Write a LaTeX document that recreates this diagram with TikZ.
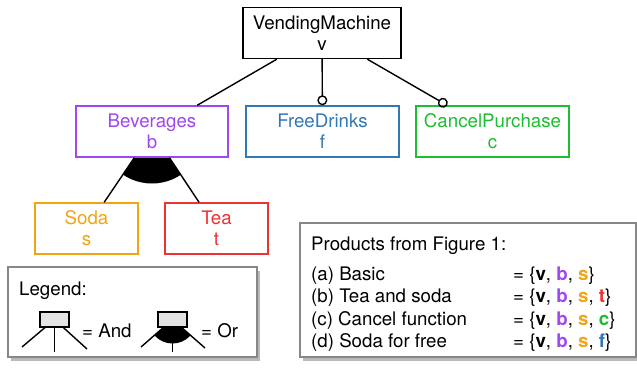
\documentclass[tikz,border=0pt]{standalone}
\usepackage{fontspec}
\setmainfont{TeX Gyre Heros}
\usetikzlibrary{arrows.meta,shadows,backgrounds}
\definecolor{cpurple}{RGB}{160,72,240}
\definecolor{cblue}{RGB}{50,120,180}
\definecolor{cgreen}{RGB}{30,190,50}
\definecolor{corange}{RGB}{240,165,20}
\definecolor{cred}{RGB}{238,50,50}
\definecolor{cframe}{RGB}{135,135,135}
\begin{document}
\begin{tikzpicture}[x=1pt,y=-1pt,
  font=\fontsize{18.7}{21}\selectfont,
  feat/.style={draw, line width=1.4pt, fill=white, minimum height=51pt, align=center, inner sep=0pt},
  edge/.style={line width=1.4pt},
  opt/.style={edge, -{Circle[open,length=10pt,width=10pt,line width=1.4pt]}},
  panel/.style={draw=cframe, line width=1.3pt, fill=white, inner sep=0pt,
    drop shadow={shadow xshift=2.5pt, shadow yshift=-3.5pt, fill=black!55, opacity=0.5}},
  legbox/.style={draw, fill=gray!22, line width=1.3pt, minimum width=29pt, minimum height=15pt, inner sep=0pt},
  txt/.style={anchor=base west, inner sep=0pt}
]
\useasboundingbox (0,0) rectangle (637,367);

% feature nodes
\node[feat, minimum width=158pt] (vm) at (322,33) {VendingMachine\\v};
\node[feat, draw=cpurple, text=cpurple, minimum width=152pt] (bev) at (152,131.5) {Beverages\\b};
\node[feat, draw=cblue, text=cblue, minimum width=153pt] (free) at (322.5,131.5) {FreeDrinks\\f};
\node[feat, draw=cgreen, text=cgreen, minimum width=153pt] (cancel) at (492.5,131.5) {CancelPurchase\\c};
\node[feat, draw=corange, text=corange, minimum width=103pt] (soda) at (86.5,228.5) {Soda\\s};
\node[feat, draw=cred, text=cred, minimum width=103pt] (tea) at (216.5,228.5) {Tea\\t};

% connectors
\draw[edge] (vm) -- (bev);
\draw[opt] (vm) -- (free);
\draw[opt] (vm) -- (cancel);
\draw[edge] (bev) -- (soda);
\draw[edge] (bev) -- (tea);
\begin{pgfonlayer}{background}
  \begin{scope}
    \clip (bev.center) -- (soda.center) -- (tea.center) -- cycle;
    \fill (bev.center) circle[radius=52];
  \end{scope}
\end{pgfonlayer}

% legend
\node[panel, minimum width=249pt, minimum height=90pt] (legend) at (132.5,312) {};
\node[txt] (legtitle) at (19,295.5) {Legend:};
\node[legbox] (andbox) at (54.5,319.5) {};
\coordinate (andL) at (22,347);
\coordinate (andM) at (54.5,352);
\coordinate (andR) at (87,349);
\draw[edge] (andbox) -- (andL);
\draw[edge] (andbox) -- (andM);
\draw[edge] (andbox) -- (andR);
\node[txt] (andtxt) at (82,337) {= And};

\coordinate (orc) at (172.5,319.5);
\coordinate (orL) at (141,347);
\coordinate (orM) at (172.5,352);
\coordinate (orR) at (205,348);
\begin{scope}
  \clip (orc) -- (orL) -- (orR) -- cycle;
  \fill (orc) circle[radius=24];
\end{scope}
\node[legbox] (orbox) at (orc) {};
\draw[edge] (orbox) -- (orL);
\draw[edge] (orbox) -- (orM);
\draw[edge] (orbox) -- (orR);
\node[txt] (ortxt) at (201,337) {= Or};

% products
\node[panel, minimum width=336pt, minimum height=134pt] (prod) at (468,290) {};
\node[txt] (ptitle) at (311,250) {Products from Figure 1:};
\node[txt] (pa) at (311,280) {(a) Basic};
\node[txt] (pb) at (311,302.5) {(b) Tea and soda};
\node[txt] (pc) at (311,325) {(c) Cancel function};
\node[txt] (pd) at (311,347) {(d) Soda for free};
\node[txt] (sa) at (513,280) {= \{\textbf{v}, \textcolor{cpurple}{\textbf{b}}, \textcolor{corange}{\textbf{s}}\}};
\node[txt] (sb) at (513,302.5) {= \{\textbf{v}, \textcolor{cpurple}{\textbf{b}}, \textcolor{corange}{\textbf{s}}, \textcolor{cred}{\textbf{t}}\}};
\node[txt] (sc) at (513,325) {= \{\textbf{v}, \textcolor{cpurple}{\textbf{b}}, \textcolor{corange}{\textbf{s}}, \textcolor{cgreen}{\textbf{c}}\}};
\node[txt] (sd) at (513,347) {= \{\textbf{v}, \textcolor{cpurple}{\textbf{b}}, \textcolor{corange}{\textbf{s}}, \textcolor{cblue}{\textbf{f}}\}};
\end{tikzpicture}
\end{document}
